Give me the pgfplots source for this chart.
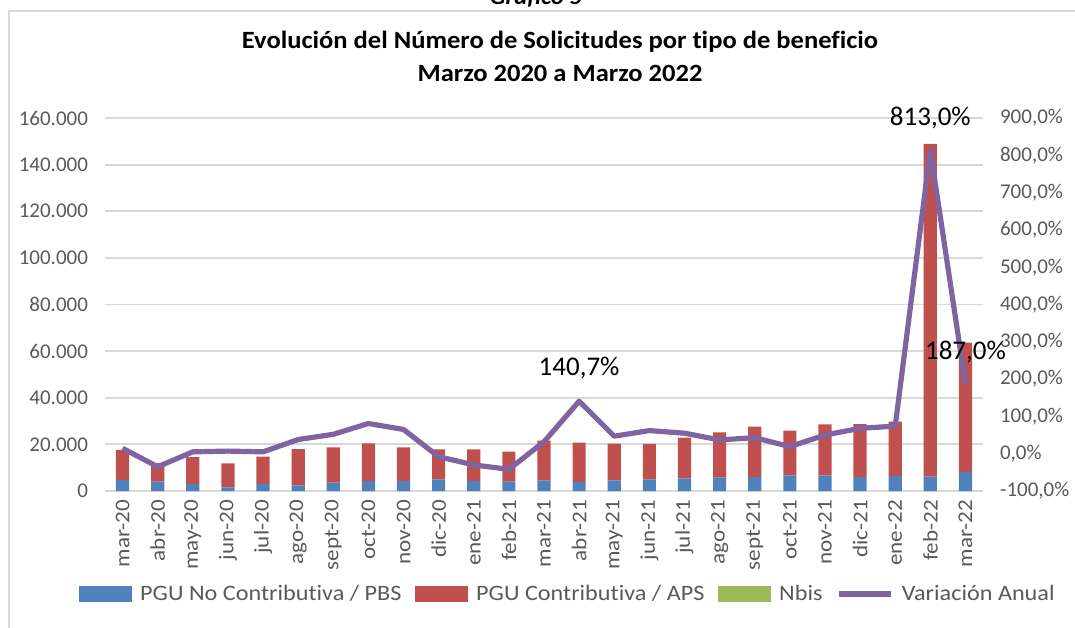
\documentclass[border=0pt]{standalone}
\usepackage{fontspec}
\setmainfont{Carlito}[Ligatures={NoCommon}]
\newfontfamily\legfont{Carlito}[FakeStretch=1.1, Ligatures={NoCommon}]
\newfontfamily\titfont{Carlito}[FakeStretch=1.07, Ligatures={NoCommon}]
\newfontfamily\xfont{Carlito}[FakeStretch=1.1, Ligatures={NoCommon}]
\usepackage{pgfplots}
\usepackage{pgfplotstable}
\pgfplotsset{compat=1.18}

\definecolor{cPBS}{RGB}{79,129,189}
\definecolor{cAPS}{RGB}{192,80,77}
\definecolor{cNbis}{RGB}{155,187,89}
\definecolor{cVar}{RGB}{128,100,162}
\definecolor{gridgray}{RGB}{217,217,217}
\definecolor{txtgray}{RGB}{89,89,89}

% idx, PGU no contributiva (PBS), PGU contributiva (APS), Nbis, variacion anual (%)
\pgfplotstableread{
idx pbs  aps    nbis var
0   4700 12900  0    14.5
1   4000 8000   0    -35
2   3000 11500  0    5
3   1600 10300  0    7
4   2900 11800  0    5
5   2400 15600  0    38
6   3600 15100  0    52
7   4200 16200  0    81
8   4300 14400  0    65
9   5000 12900  0    -8
10  4300 13600  0    -30
11  4000 12900  0    -42
12  4400 17200  0    32
13  3900 16800  0    140.7
14  4600 15700  0    47
15  5000 15200  0    62
16  5400 17500  0    55
17  5700 19500  0    37
18  6000 21600  0    43
19  6700 19200  0    19
20  6700 21900  0    50
21  5900 22800  0    68
22  6400 23400  0    74
23  6200 142700 0    813
24  8200 55500  0    187
}\datos

\begin{document}
\begin{tikzpicture}[font=\fontsize{10.5}{12}\selectfont]
\useasboundingbox (0,0) rectangle (537.5pt,313.5pt);
\draw[gridgray, line width=1pt] (4.5pt,-5pt) -- (4.5pt,308pt) -- (545pt,308pt);
\node[anchor=base, font=\titfont\fontsize{11.5}{13}\selectfont\bfseries\itshape] at (268pt,311pt) {Gráfico 5};
\node[font=\titfont\fontsize{12.4}{14}\selectfont\bfseries] at (280pt,292.5pt) {Evolución del Número de Solicitudes por tipo de beneficio};
\node[font=\titfont\fontsize{12.4}{14}\selectfont\bfseries] at (280pt,277pt) {Marzo 2020 a Marzo 2022};

\begin{axis}[at={(52.5pt,68pt)}, anchor=south west, scale only axis,
	width=439pt, height=186.5pt,
	ybar stacked, bar width=6.6pt,
	xmin=-0.5, xmax=24.5, ymin=0, ymax=160000,
	ytick={0,20000,...,160000}, scaled y ticks=false,
	yticklabels={0,20.000,40.000,60.000,80.000,100.000,120.000,140.000,160.000},
	yticklabel style={text=txtgray, xshift=-5pt},
	xtick={0,...,24},
	xticklabels={mar-20,abr-20,may-20,jun-20,jul-20,ago-20,sept-20,oct-20,nov-20,dic-20,ene-21,feb-21,mar-21,abr-21,may-21,jun-21,jul-21,ago-21,sept-21,oct-21,nov-21,dic-21,ene-22,feb-22,mar-22},
	xticklabel style={rotate=90, anchor=east, text=txtgray, xshift=-1pt,
		font=\xfont\fontsize{10.5}{12}\selectfont},
	major tick length=0pt, axis line style={draw=none},
	ymajorgrids, grid style={gridgray, line width=0.9pt}]
	\addplot[fill=cPBS, draw=none] table[x=idx, y=pbs] {\datos};
	\addplot[fill=cAPS, draw=none] table[x=idx, y=aps] {\datos};
	\addplot[fill=cNbis, draw=none] table[x=idx, y=nbis] {\datos};
\end{axis}

\begin{axis}[at={(52.5pt,68pt)}, anchor=south west, scale only axis,
	width=439pt, height=186.5pt,
	xmin=-0.5, xmax=24.5, ymin=-100, ymax=900,
	ytick={-100,0,...,900}, axis y line*=right, xtick=\empty,
	yticklabels={-100{,}0\%,0{,}0\%,100{,}0\%,200{,}0\%,300{,}0\%,400{,}0\%,500{,}0\%,600{,}0\%,700{,}0\%,800{,}0\%,900{,}0\%},
	yticklabel style={text=txtgray, anchor=west, xshift=5pt},
	major tick length=0pt, axis line style={draw=none},
	clip=false,
	legend columns=4, legend cell align=left,
	legend style={at={(0.5285,-0.276)}, anchor=center, draw=none, fill=none,
		text=txtgray, font=\legfont\fontsize{11}{13}\selectfont,
		/tikz/every odd column/.append style={column sep=2pt},
		/tikz/every even column/.append style={column sep=5pt}},
	]
	\addplot[cVar, line width=2.6pt, line join=round, forget plot] table[x=idx, y=var] {\datos};
	\node[font=\fontsize{13.5}{15}\selectfont] at (axis cs:13,230) {140,7\%};
	\node[font=\fontsize{13.5}{15}\selectfont] at (axis cs:23,900) {813,0\%};
	\node[font=\fontsize{13.5}{15}\selectfont] at (axis cs:24,272) {187,0\%};
	\addlegendimage{legend image code/.code={\fill[cPBS] (0pt,-3.75pt) rectangle (26pt,3.75pt);}}
	\addlegendentry{PGU No Contributiva / PBS}
	\addlegendimage{legend image code/.code={\fill[cAPS] (0pt,-3.75pt) rectangle (26pt,3.75pt);}}
	\addlegendentry{PGU Contributiva / APS}
	\addlegendimage{legend image code/.code={\fill[cNbis] (0pt,-3.75pt) rectangle (26pt,3.75pt);}}
	\addlegendentry{Nbis}
	\addlegendimage{legend image code/.code={\draw[cVar, line width=2.6pt] (0pt,0pt) -- (26pt,0pt);}}
	\addlegendentry{Variación Anual}
\end{axis}
\end{tikzpicture}
\end{document}
